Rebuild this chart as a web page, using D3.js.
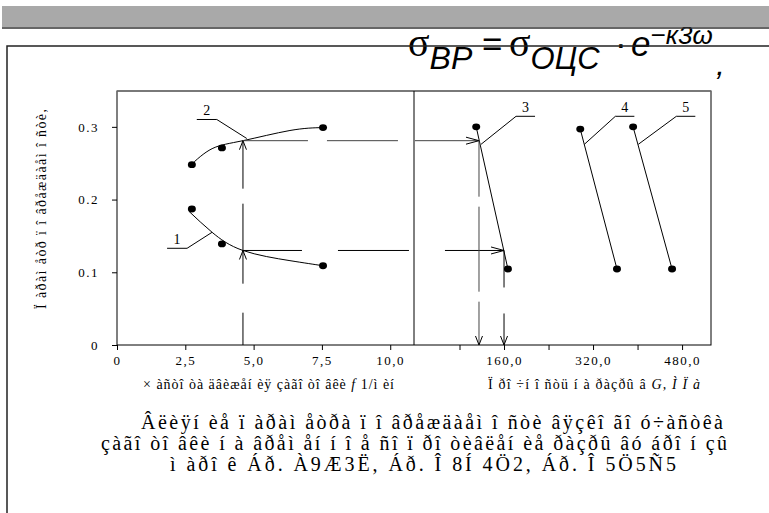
<!DOCTYPE html>
<html>
<head>
<meta charset="utf-8">
<script src="https://cdn.jsdelivr.net/npm/d3@7"></script>
<style>
  body { margin: 0; background: #fff; }
  svg { display: block; }
  .serif { font-family: "Liberation Serif", "Times New Roman", serif; }
  .axis text { font-family: "Liberation Serif", "Times New Roman", serif; font-size: 13px; letter-spacing: 1.5px; fill: #000; }
  .axis line { stroke: #000; }
</style>
</head>
<body>
<div class="chart"></div>
<script>
// ticks
var fTicks = [0, 2.5, 5, 7.5, 10];
var fTickLabels = ['0', '2,5', '5,0', '7,5', '10,0'];
var gTicks = [80, 160, 240, 320, 400, 480];
var gTickLabels = ['', '160,0', '', '320,0', '', '480,0'];
var pTicks = [0, 0.1, 0.2, 0.3];
var pTickLabels = ['0', '0.1', '0.2', '0.3'];

// left panel: damage parameter vs stroke frequency
var freq = [2.74, 3.84, 7.54];
var damage1 = [0.187, 0.139, 0.109];
var damage2 = [0.248, 0.271, 0.299];
var fitFreq = [2.63, 3.48, 4.61, 6.33, 7.54];
var fit1 = [0.184, 0.155, 0.130, 0.116, 0.109];
var fit2 = [0.245, 0.270, 0.281, 0.295, 0.299];

// right panel: damage parameter vs tensile strength
var strength3 = [110, 167];
var strength4 = [297, 363];
var strength5 = [392, 462];
var damage3 = [0.300, 0.1045];
var damage4 = [0.297, 0.1045];
var damage5 = [0.300, 0.1045];

// read-off guides
var guideFreq = 4.61;
var guideLevels = [0.281, 0.130];
var guideStrength = [115, 160];

// curve labels
var labelNames = ['1', '2', '3', '4', '5'];
var labelPanel = ['f', 'f', 'g', 'g', 'g'];
var labelX = [3.48, 4.75, 118.7, 304.4, 401.4];
var labelY = [0.155, 0.284, 0.276, 0.276, 0.276];

var yTitle = 'Ï àðàì åòð ï î âðåæäàåì î ñòè,';
var caption = [
    'Âëèÿí èå ï àðàì åòðà ï î âðåæäàåì î ñòè âÿçêî ãî  ó÷àñòêà',
    'çàãî òî âêè  í à âðåì åí í î å ñî ï ðî òèâëåí èå ðàçðû âó áðî í çû',
    'ì àðî ê Áð. À9Æ3Ë, Áð. Î 8Í 4Ö2, Áð. Î 5Ö5Ñ5'
];

var width = 769, height = 513;
var box = {left: 117, right: 711, top: 91, bottom: 345, split: 414};

var svg = d3.select('.chart').append('svg')
    .attr('width', width)
    .attr('height', height);

var xF = d3.scaleLinear().domain([0, 10.87]).range([box.left, box.split]);
var xG = d3.scaleLinear().domain([0, 532]).range([box.split + 1, box.right]);
var y = d3.scaleLinear().domain([0, 0.35]).range([box.bottom, 90.5]);

// formula
var sans = '"Liberation Sans", Arial, sans-serif';
var formula = svg.append('text')
    .attr('y', 56)
    .style('font-family', sans)
    .style('font-size', '35px');
formula.append('tspan').attr('x', 408).style('font-family', '"Liberation Serif", serif').style('font-size', '40px').text('σ');
formula.append('tspan').attr('dy', 13).style('font-style', 'italic').style('font-size', '32px').text('BP');
formula.append('tspan').attr('x', 482).attr('dy', -13).text('=');
formula.append('tspan').attr('x', 509).style('font-family', '"Liberation Serif", serif').style('font-size', '40px').text('σ');
formula.append('tspan').attr('dy', 13).style('font-style', 'italic').style('font-size', '31px').text('ОЦС');
formula.append('tspan').attr('x', 615).attr('dy', -13).text('·');
formula.append('tspan').attr('x', 631).style('font-style', 'italic').text('e');
formula.append('tspan').attr('dy', -12).style('font-style', 'italic').style('font-size', '26px').text('−к3ω');

svg.append('text')
    .attr('x', 716)
    .attr('y', 75)
    .style('font-family', sans)
    .style('font-size', '32px')
    .style('font-style', 'italic')
    .text(',');

// slide frame
svg.append('path')
    .attr('d', 'M7,513 L7,46 L769,46')
    .attr('fill', 'none')
    .attr('stroke', '#222')
    .attr('stroke-width', 1.5);

// header bar
svg.append('rect')
    .attr('x', 2).attr('y', 6)
    .attr('width', width - 2).attr('height', 21)
    .attr('fill', '#a9a9a9');
svg.append('line')
    .attr('x1', 2).attr('x2', width)
    .attr('y1', 28).attr('y2', 28)
    .attr('stroke', '#333')
    .attr('stroke-width', 1.5);

// plot box
svg.append('rect')
    .attr('x', box.left).attr('y', box.top)
    .attr('width', box.right - box.left).attr('height', box.bottom - box.top)
    .attr('fill', 'none')
    .attr('stroke', '#000');
svg.append('line')
    .attr('x1', box.left).attr('x2', box.right)
    .attr('y1', box.top).attr('y2', box.top)
    .attr('stroke', '#777')
    .attr('stroke-width', 1.5);
svg.append('line')
    .attr('x1', box.split).attr('x2', box.split)
    .attr('y1', box.top).attr('y2', box.bottom)
    .attr('stroke', '#000');

// axes
var yAxis = svg.append('g')
    .attr('class', 'axis')
    .attr('transform', 'translate(' + box.left + ',0)')
    .call(d3.axisLeft(y).tickValues(pTicks).tickSize(5).tickPadding(13)
        .tickFormat(function(d, i) { return pTickLabels[i] }));
yAxis.select('.domain').remove();

var fAxis = svg.append('g')
    .attr('class', 'axis')
    .attr('transform', 'translate(0,' + box.bottom + ')')
    .call(d3.axisBottom(xF).tickValues(fTicks).tickSize(5).tickPadding(6)
        .tickFormat(function(d, i) { return fTickLabels[i] }));
fAxis.select('.domain').remove();

var gAxis = svg.append('g')
    .attr('class', 'axis')
    .attr('transform', 'translate(0,' + box.bottom + ')')
    .call(d3.axisBottom(xG).tickValues(gTicks).tickSize(5).tickPadding(6)
        .tickFormat(function(d, i) { return gTickLabels[i] }));
gAxis.select('.domain').remove();

// axis titles
svg.append('text')
    .attr('class', 'serif')
    .attr('transform', 'translate(46,209) rotate(-90)')
    .attr('text-anchor', 'middle')
    .attr('textLength', 200)
    .style('font-size', '14px')
    .text(yTitle);

var fTitle = svg.append('text')
    .attr('class', 'serif')
    .attr('x', 143).attr('y', 389)
    .attr('textLength', 251)
    .style('font-size', '14px');
fTitle.append('tspan').text('× àñòî òà äâèæåí èÿ çàãî òî âêè  ');
fTitle.append('tspan').style('font-style', 'italic').text('f');
fTitle.append('tspan').text('  1/ì èí');

var gTitle = svg.append('text')
    .attr('class', 'serif')
    .attr('x', 488).attr('y', 389)
    .attr('textLength', 212)
    .style('font-size', '14px');
gTitle.append('tspan').text('Ï ðî ÷í î ñòü í à ðàçðû â  ');
gTitle.append('tspan').style('font-style', 'italic').text('G,  Ì Ï à');

// fitted curves
var fitLine = d3.line()
    .x(function(d) { return xF(d[0]) })
    .y(function(d) { return y(d[1]) })
    .curve(d3.curveNatural);

[fit1, fit2].forEach(function(fit) {
    svg.append('path')
        .datum(fitFreq.map(function(f, i) { return [f, fit[i]] }))
        .attr('d', fitLine)
        .attr('fill', 'none')
        .attr('stroke', '#000');
});

// straight lines on the right
[[strength3, damage3], [strength4, damage4], [strength5, damage5]].forEach(function(s) {
    svg.append('line')
        .attr('x1', xG(s[0][0])).attr('y1', y(s[1][0]))
        .attr('x2', xG(s[0][1])).attr('y2', y(s[1][1]))
        .attr('stroke', '#000');
});

// points
function dots(xs, ys, xScale) {
    svg.append('g').selectAll('ellipse')
        .data(xs)
        .enter()
        .append('ellipse')
        .attr('cx', function(d) { return xScale(d) })
        .attr('cy', function(d, i) { return y(ys[i]) })
        .attr('rx', 4)
        .attr('ry', 3.4)
        .attr('fill', '#000');
}
dots(freq, damage1, xF);
dots(freq, damage2, xF);
dots(strength3, damage3, xG);
dots(strength4, damage4, xG);
dots(strength5, damage5, xG);

// guides
function dashed(x1, y1, x2, y2, dash, color) {
    svg.append('line')
        .attr('x1', x1).attr('y1', y1)
        .attr('x2', x2).attr('y2', y2)
        .attr('stroke', color || '#000')
        .attr('stroke-dasharray', dash);
}
function arrowHead(x, yy, dir) {
    var l = 9, w = 3.5, d;
    if (dir === 'up') d = 'M' + (x - w) + ',' + (yy + l) + 'L' + x + ',' + yy + 'L' + (x + w) + ',' + (yy + l);
    if (dir === 'down') d = 'M' + (x - w) + ',' + (yy - l) + 'L' + x + ',' + yy + 'L' + (x + w) + ',' + (yy - l);
    if (dir === 'right') d = 'M' + (x - l - 4) + ',' + (yy - w) + 'L' + x + ',' + yy + 'L' + (x - l - 4) + ',' + (yy + w);
    svg.append('path').attr('d', d).attr('fill', 'none').attr('stroke', '#000');
}

var gx = xF(guideFreq);
dashed(gx, y(guideLevels[0]), gx, y(0), '48,15,80,29,40');
arrowHead(gx, y(guideLevels[0]), 'up');
arrowHead(gx, y(guideLevels[1]), 'up');

dashed(gx, y(guideLevels[0]), xG(guideStrength[0]), y(guideLevels[0]), '65,19,71,17,80', '#444');
arrowHead(xG(guideStrength[0]), y(guideLevels[0]), 'right');
dashed(gx, y(guideLevels[1]), xG(guideStrength[1]), y(guideLevels[1]), '59,36,71,36,80');
arrowHead(xG(guideStrength[1]), y(guideLevels[1]), 'right');

dashed(xG(guideStrength[0]), y(guideLevels[0]), xG(guideStrength[0]), y(0), '56,10,85,10,60', '#444');
arrowHead(xG(guideStrength[0]), y(0), 'down');
dashed(xG(guideStrength[1]), y(guideLevels[1]), xG(guideStrength[1]), y(0), '37,26,40');
arrowHead(xG(guideStrength[1]), y(0), 'down');

// curve labels with leaders
labelNames.forEach(function(name, i) {
    var sx = labelPanel[i] === 'f' ? xF : xG;
    var ax = sx(labelX[i]), ay = y(labelY[i]);
    var left = labelPanel[i] === 'f';
    var dx = [-25, -30, 35, 31, 38][i];
    var dy = [16, -19, -28, -28, -28][i];
    var ex = ax + dx, ey = ay + dy;
    var ux = left ? ex - 20 : ex + 19;
    svg.append('path')
        .attr('d', 'M' + ax + ',' + ay + 'L' + ex + ',' + ey + 'L' + ux + ',' + ey)
        .attr('fill', 'none')
        .attr('stroke', '#000');
    svg.append('text')
        .attr('class', 'serif')
        .attr('x', (ex + ux) / 2)
        .attr('y', ey - 4)
        .attr('text-anchor', 'middle')
        .style('font-size', '14px')
        .text(name);
});

// caption
var capLeft = [141, 101, 170];
var capWidths = [582, 626, 506];
svg.append('g').selectAll('text')
    .data(caption)
    .enter()
    .append('text')
    .attr('class', 'serif')
    .attr('x', function(d, i) { return capLeft[i] })
    .attr('y', function(d, i) { return 429 + i * 21 })
    .attr('textLength', function(d, i) { return capWidths[i] })
    .style('font-size', '20px')
    .text(function(d) { return d });
</script>
</body>
</html>
